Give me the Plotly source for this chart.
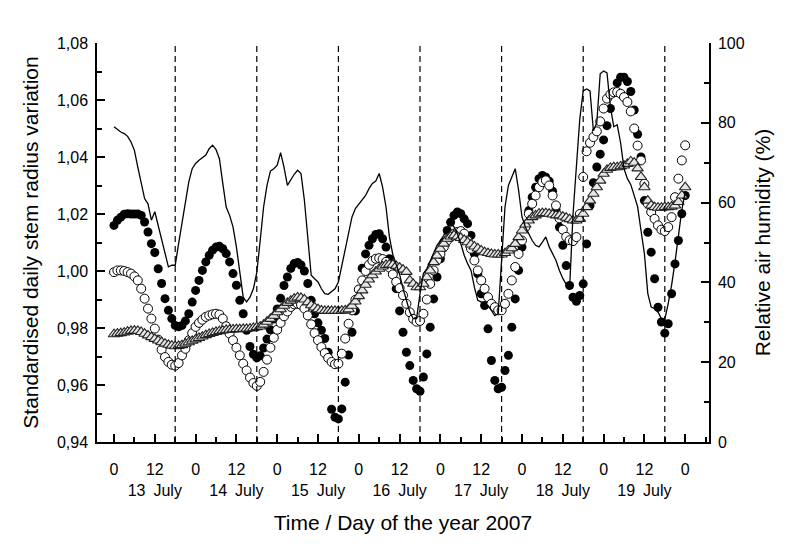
import plotly.graph_objects as go

# Time in hours from 13 July 2007, 00:00
HOURS = list(range(0, 169))

# Standardised daily stem radius variation (filled circles)
STEM_FILLED = [
    1.0160, 1.0178, 1.0189, 1.0199, 1.0201, 1.0200, 1.0200, 1.0200, 1.0195, 1.0172,
    1.0137, 1.0096, 1.0065, 1.0008, 0.9956, 0.9903, 0.9862, 0.9833, 0.9809, 0.9804,
    0.9809, 0.9825, 0.9850, 0.9891, 0.9932, 0.9967, 1.0002, 1.0032, 1.0055, 1.0073,
    1.0084, 1.0087, 1.0078, 1.0061, 1.0032, 0.9991, 0.9950, 0.9897, 0.9850, 0.9792,
    0.9735, 0.9708, 0.9695, 0.9703, 0.9730, 0.9761, 0.9794, 0.9832, 0.9867, 0.9904,
    0.9949, 0.9979, 1.0009, 1.0026, 1.0030, 1.0021, 1.0000, 0.9956, 0.9897, 0.9850,
    0.9818, 0.9792, 0.9763, 0.9715, 0.9515, 0.9487, 0.9481, 0.9516, 0.9610, 0.9705,
    0.9785, 0.9860, 0.9935, 1.0010, 1.0060, 1.0090, 1.0113, 1.0128, 1.0131, 1.0113,
    1.0084, 1.0043, 0.9990, 0.9938, 0.9860, 0.9785, 0.9715, 0.9668, 0.9616, 0.9587,
    0.9578, 0.9628, 0.9709, 0.9803, 0.9902, 0.9979, 1.0043, 1.0101, 1.0142, 1.0171,
    1.0195, 1.0207, 1.0201, 1.0183, 1.0166, 1.0125, 1.0060, 0.9990, 0.9920, 0.9879,
    0.9797, 0.9686, 0.9616, 0.9587, 0.9592, 0.9651, 0.9704, 0.9803, 0.9902, 1.0002,
    1.0084, 1.0154, 1.0212, 1.0259, 1.0294, 1.0324, 1.0335, 1.0329, 1.0315, 1.0280,
    1.0215, 1.0154, 1.0090, 1.0019, 0.9949, 0.9908, 0.9894, 0.9914, 0.9955, 1.0095,
    1.0230, 1.0310, 1.0365, 1.0410, 1.0460, 1.0510, 1.0570, 1.0625, 1.0660, 1.0680,
    1.0680, 1.0665, 1.0630, 1.0565, 1.0480, 1.0400, 1.0247, 1.0136, 1.0066, 0.9973,
    0.9873, 0.9821, 0.9782, 0.9815, 0.9920, 1.0025, 1.0107, 1.0201, 1.0265,
]

# Standardised daily stem radius variation (open circles)
STEM_OPEN = [
    0.9996, 1.0002, 1.0002, 1.0000, 0.9996, 0.9991, 0.9981, 0.9967, 0.9938, 0.9903,
    0.9868, 0.9833, 0.9798, 0.9759, 0.9724, 0.9698, 0.9681, 0.9671, 0.9668, 0.9677,
    0.9704, 0.9727, 0.9757, 0.9782, 0.9804, 0.9818, 0.9829, 0.9839, 0.9844, 0.9848,
    0.9850, 0.9847, 0.9833, 0.9806, 0.9780, 0.9757, 0.9731, 0.9704, 0.9675, 0.9651,
    0.9626, 0.9607, 0.9597, 0.9611, 0.9646, 0.9689, 0.9731, 0.9766, 0.9794, 0.9818,
    0.9841, 0.9858, 0.9874, 0.9883, 0.9885, 0.9881, 0.9868, 0.9844, 0.9813, 0.9782,
    0.9757, 0.9733, 0.9712, 0.9695, 0.9681, 0.9673, 0.9675, 0.9710, 0.9763, 0.9815,
    0.9862, 0.9899, 0.9935, 0.9967, 1.0000, 1.0022, 1.0036, 1.0043, 1.0045, 1.0042,
    1.0032, 1.0012, 0.9988, 0.9962, 0.9940, 0.9915, 0.9885, 0.9855, 0.9832, 0.9822,
    0.9825, 0.9850, 0.9900, 0.9955, 1.0002, 1.0037, 1.0060, 1.0084, 1.0107, 1.0119,
    1.0131, 1.0137, 1.0140, 1.0131, 1.0107, 1.0078, 1.0037, 1.0002, 0.9967, 0.9938,
    0.9908, 0.9885, 0.9873, 0.9862, 0.9862, 0.9885, 0.9920, 0.9967, 1.0014, 1.0060,
    1.0107, 1.0154, 1.0201, 1.0236, 1.0265, 1.0294, 1.0312, 1.0318, 1.0300, 1.0265,
    1.0230, 1.0185, 1.0145, 1.0120, 1.0108, 1.0105, 1.0119, 1.0200, 1.0330, 1.0420,
    1.0450, 1.0470, 1.0490, 1.0525, 1.0570, 1.0605, 1.0620, 1.0627, 1.0628, 1.0622,
    1.0610, 1.0593, 1.0560, 1.0500, 1.0440, 1.0388, 1.0306, 1.0236, 1.0207, 1.0183,
    1.0160, 1.0145, 1.0140, 1.0154, 1.0189, 1.0259, 1.0324, 1.0388, 1.0441,
]

# Standardised daily stem radius variation (triangles)
STEM_TRI = [
    0.9778, 0.9780, 0.9782, 0.9784, 0.9787, 0.9790, 0.9791, 0.9790, 0.9786, 0.9780,
    0.9774, 0.9768, 0.9762, 0.9756, 0.9750, 0.9745, 0.9741, 0.9738, 0.9736, 0.9737,
    0.9740, 0.9745, 0.9750, 0.9755, 0.9760, 0.9765, 0.9770, 0.9775, 0.9779, 0.9783,
    0.9786, 0.9789, 0.9791, 0.9793, 0.9794, 0.9795, 0.9796, 0.9796, 0.9797, 0.9797,
    0.9798, 0.9800, 0.9803, 0.9805, 0.9812, 0.9822, 0.9832, 0.9843, 0.9855, 0.9866,
    0.9878, 0.9888, 0.9896, 0.9903, 0.9907, 0.9906, 0.9900, 0.9890, 0.9880, 0.9872,
    0.9866, 0.9862, 0.9860, 0.9860, 0.9860, 0.9860, 0.9860, 0.9861, 0.9862, 0.9866,
    0.9878, 0.9893, 0.9912, 0.9932, 0.9952, 0.9970, 0.9985, 0.9998, 1.0008, 1.0016,
    1.0021, 1.0023, 1.0022, 1.0018, 1.0012, 1.0005, 0.9997, 0.9967, 0.9955, 0.9943,
    0.9943, 0.9955, 0.9978, 1.0002, 1.0031, 1.0054, 1.0078, 1.0096, 1.0113, 1.0121,
    1.0125, 1.0121, 1.0116, 1.0109, 1.0101, 1.0093, 1.0086, 1.0079, 1.0072, 1.0066,
    1.0063, 1.0060, 1.0058, 1.0058, 1.0058, 1.0063, 1.0072, 1.0080, 1.0095, 1.0119,
    1.0142, 1.0163, 1.0177, 1.0189, 1.0195, 1.0201, 1.0203, 1.0203, 1.0201, 1.0198,
    1.0195, 1.0195, 1.0191, 1.0187, 1.0182, 1.0177, 1.0177, 1.0183, 1.0201, 1.0224,
    1.0247, 1.0271, 1.0294, 1.0317, 1.0341, 1.0355, 1.0362, 1.0364, 1.0364, 1.0367,
    1.0370, 1.0376, 1.0385, 1.0380, 1.0360, 1.0330, 1.0294, 1.0247, 1.0230, 1.0224,
    1.0222, 1.0222, 1.0224, 1.0224, 1.0226, 1.0230, 1.0242, 1.0265, 1.0294,
]

# Relative air humidity (%)
RH = [
    79.0, 78.3, 77.7, 77.3, 76.6, 75.2, 73.1, 68.9, 64.8, 61.0,
    59.7, 55.6, 57.7, 54.3, 51.4, 48.0, 43.9, 44.3, 44.3, 49.7,
    54.7, 59.7, 65.2, 68.5, 69.8, 70.6, 71.3, 71.9, 73.5, 74.4,
    73.3, 71.0, 64.8, 58.9, 56.8, 53.9, 48.9, 42.2, 36.3, 35.1,
    36.3, 38.4, 42.5, 50.5, 58.9, 64.3, 67.9, 68.5, 69.4, 72.5,
    68.9, 64.3, 65.8, 67.1, 68.1, 67.3, 60.6, 50.5, 41.8, 40.9,
    40.1, 38.4, 37.2, 37.0, 37.8, 38.4, 40.1, 44.3, 48.9, 52.2,
    56.4, 58.5, 59.6, 60.6, 61.8, 63.5, 64.8, 65.4, 67.3, 63.9,
    58.9, 51.4, 47.0, 44.5, 42.0, 38.5, 35.5, 32.6, 30.9, 30.9,
    37.2, 42.2, 43.4, 45.5, 47.2, 49.3, 50.5, 51.8, 53.5, 54.9,
    53.9, 52.2, 49.7, 46.8, 44.7, 43.0, 38.8, 35.5, 35.1, 34.7,
    34.2, 33.0, 31.7, 32.2, 46.4, 58.9, 64.3, 66.4, 68.5, 63.1,
    56.4, 53.9, 52.2, 50.5, 49.3, 48.9, 50.1, 51.4, 48.9, 47.2,
    45.5, 43.0, 41.0, 39.5, 38.5, 57.0, 70.0, 81.0, 88.0, 88.5,
    88.0, 78.0, 80.0, 92.3, 93.0, 92.5, 84.0, 79.0, 79.5, 75.0,
    68.5, 66.0, 64.5, 61.5, 59.0, 53.0, 47.2, 37.2, 33.8, 33.4,
    32.6, 30.9, 30.7, 34.7, 39.3, 45.1, 51.4, 58.1, 62.7,
]

DAY_LABELS = ["13 July", "14 July", "15 July", "16 July", "17 July", "18 July", "19 July"]
X_TICK_VALS = list(range(0, 169, 12))
DASHED_HOURS = [18, 42, 66, 90, 114, 138, 162]
Y_TICK_VALS = [0.94, 0.96, 0.98, 1.00, 1.02, 1.04, 1.06, 1.08]
Y_TICK_TEXT = ["0,94", "0,96", "0,98", "1,00", "1,02", "1,04", "1,06", "1,08"]
RH_TICK_VALS = [0, 20, 40, 60, 80, 100]

x_tick_text = []
for v in X_TICK_VALS:
    if v % 24 == 0:
        x_tick_text.append("0")
    else:
        day = DAY_LABELS[v // 24].replace(" ", "\u2002")
        x_tick_text.append("12<br>" + day)

FONT = "Arial, Liberation Sans, Helvetica, sans-serif"

fig = go.Figure()
fig.add_trace(go.Scatter(
    x=HOURS, y=STEM_FILLED, mode="markers", name="filled",
    marker=dict(symbol="circle", size=9, color="black", line=dict(width=0)),
))
fig.add_trace(go.Scatter(
    x=HOURS, y=STEM_OPEN, mode="markers", name="open",
    marker=dict(symbol="circle", size=9, color="white", line=dict(width=1, color="black")),
))
fig.add_trace(go.Scatter(
    x=HOURS, y=STEM_TRI, mode="markers", name="triangles",
    marker=dict(symbol="triangle-up", size=10, color="#e6e6e6", line=dict(width=1.1, color="#222222")),
))
fig.add_trace(go.Scatter(
    x=HOURS, y=RH, mode="lines", name="RH", yaxis="y2",
    line=dict(color="black", width=1.3),
))

for h in DASHED_HOURS:
    fig.add_shape(type="line", xref="x", yref="paper", x0=h, x1=h, y0=0, y1=1,
                  line=dict(color="black", width=1.2, dash="6px,4px"), layer="above")

axis_common = dict(showgrid=False, zeroline=False, showline=True, linecolor="black",
                   linewidth=1.5, ticks="inside", tickcolor="black", tickwidth=1.5,
                   ticklen=8)

fig.update_layout(
    width=800, height=552,
    margin=dict(l=89, r=99, t=35, b=118),
    paper_bgcolor="white", plot_bgcolor="white",
    showlegend=False,
    font=dict(family=FONT, size=16, color="black"),
    xaxis=dict(
        range=[-5, 175], tickmode="array", tickvals=X_TICK_VALS, ticktext=x_tick_text,
        ticklabelstandoff=12,
        minor=dict(dtick=6, tick0=0, ticks="inside", ticklen=5, tickcolor="black", tickwidth=1.5),
        title=dict(text="Time / Day of the year 2007", font=dict(size=21), standoff=18),
        **axis_common,
    ),
    yaxis=dict(
        range=[0.94, 1.08], tickmode="array", tickvals=Y_TICK_VALS, ticktext=Y_TICK_TEXT,
        ticklabelstandoff=4,
        minor=dict(dtick=0.01, tick0=0.94, ticks="inside", ticklen=5, tickcolor="black", tickwidth=1.5),
        title=dict(text="Standardised daily stem radius variation", font=dict(size=21), standoff=13),
        **axis_common,
    ),
    yaxis2=dict(
        range=[0, 100], overlaying="y", side="right", tickmode="array", tickvals=RH_TICK_VALS,
        ticklabelstandoff=4,
        minor=dict(dtick=10, tick0=0, ticks="inside", ticklen=5, tickcolor="black", tickwidth=1.5),
        title=dict(text="Relative air humidity (%)", font=dict(size=21), standoff=12),
        **axis_common,
    ),
)

fig.write_html("out.html")
